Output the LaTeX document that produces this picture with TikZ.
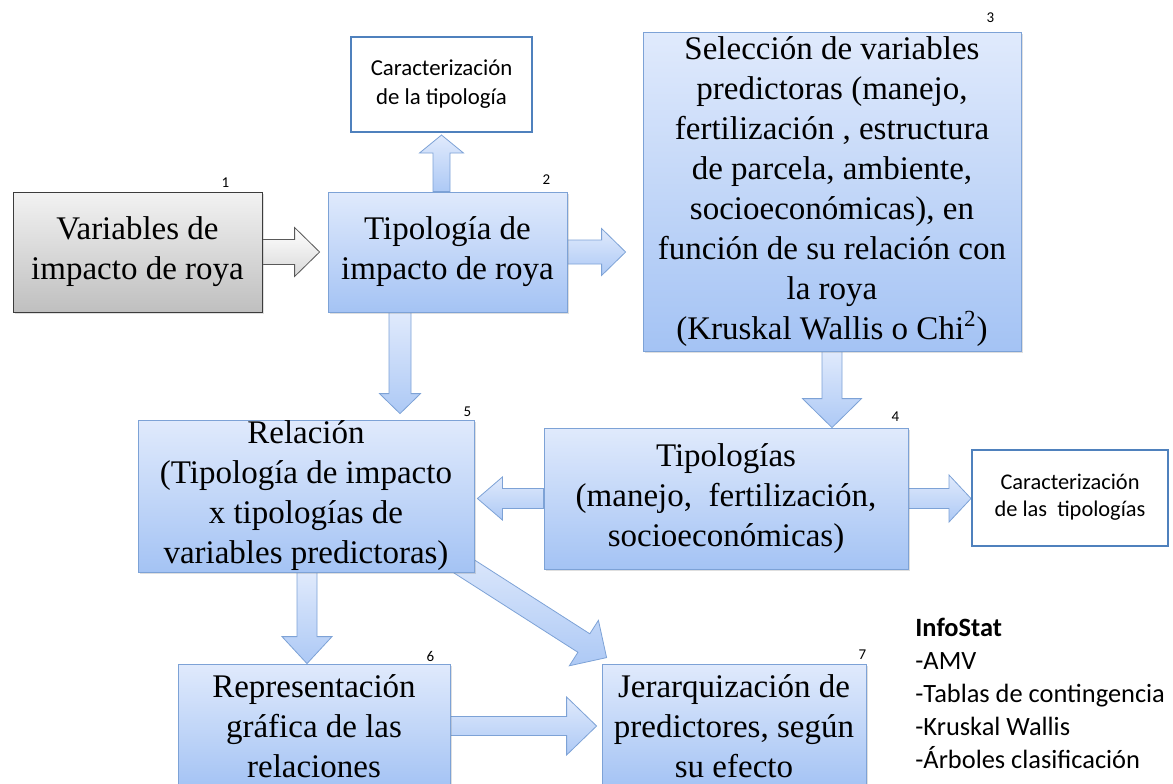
\documentclass[tikz,border=0pt]{standalone}
\usepackage{fontspec}
\setmainfont{Liberation Serif}
\newfontfamily\calibri{Carlito}
\usetikzlibrary{calc,shadows}

\definecolor{cajaborde}{RGB}{125,162,214}
\definecolor{cajaarriba}{RGB}{224,234,252}
\definecolor{cajaabajo}{RGB}{164,195,244}
\definecolor{marcoazul}{RGB}{79,129,189}
\definecolor{grisborde}{RGB}{60,60,60}

\pgfdeclarelayer{fondo}
\pgfsetlayers{fondo,main}

% flecha de bloque: estilo, desde, hasta, medio cuerpo, media punta, largo punta
\newcommand\flecha[6]{%
  \path (#2) coordinate (fa) (#3) coordinate (fb);
  \path ($(fb)!#6!(fa)$) coordinate (fh);
  \draw[#1] ($(fa)!#4!90:(fb)$) -- ($(fh)!#4!90:(fb)$) -- ($(fh)!#5!90:(fb)$)
    -- (fb) -- ($(fh)!#5!-90:(fb)$) -- ($(fh)!#4!-90:(fb)$)
    -- ($(fa)!#4!-90:(fb)$) -- cycle;}

\begin{document}
\begin{tikzpicture}[x=.5pt,y=-.5pt,
    caja/.style={draw=cajaborde,top color=cajaarriba,bottom color=cajaabajo,
      inner sep=0pt,align=center,font=\fontsize{16.5}{20}\selectfont,
      drop shadow={opacity=.25,shadow xshift=1pt,shadow yshift=-1pt}},
    cajagris/.style={caja,draw=grisborde,top color=gray!10,bottom color=gray!50},
    marco/.style={draw=marcoazul,line width=1pt,fill=white,inner sep=0pt,align=center,
      font=\calibri\fontsize{11.4}{14.5}\selectfont},
    num/.style={inner sep=0pt,font=\calibri\fontsize{7.5}{8}\selectfont},
    flechaazul/.style={draw=cajaborde,top color=cajaarriba,bottom color=cajaabajo!90},
    flechagris/.style={draw=grisborde!85,top color=white,bottom color=gray!30}]
  \useasboundingbox (0,0) rectangle (1173,783);

  \node[cajagris,minimum width=124.5pt,minimum height=60pt] (b1) at (137.5,252)
    {Variables de\\impacto de roya};
  \node[caja,minimum width=119.5pt,minimum height=60pt] (b2) at (447.5,252)
    {Tipología de\\impacto de roya};
  \node[marco,minimum width=90.5pt,minimum height=47.5pt] (c1) at (441.5,84.5)
    {Caracterización\\de la tipología};
  \node[caja,minimum width=189pt,minimum height=159.5pt] (b3) at (832,191.5)
    {Selección de variables\\predictoras (manejo,\\fertilización , estructura\\
     de parcela, ambiente,\\socioeconómicas), en\\función de su relación con\\
     la roya\\(Kruskal Wallis o Chi\textsuperscript{2})};
  \node[caja,minimum width=182pt,minimum height=70.5pt] (b4) at (726,498.5)
    {Tipologías\\(manejo,\ \ fertilización,\\socioeconómicas)};
  \node[marco,minimum width=98pt,minimum height=48pt,
    font=\calibri\fontsize{11.2}{13.5}\selectfont] (c2) at (1070,497.5)
    {Caracterización\\de las\ \ tipologías};
  \node[caja,minimum width=168pt,minimum height=76pt] (b5) at (306,496)
    {Relación\\(Tipología de impacto\\x tipologías de\\variables predictoras)};
  \node[caja,minimum width=136pt,minimum height=62pt] (b6) at (314,726)
    {Representación\\gráfica de las\\relaciones};
  \node[caja,minimum width=132pt,minimum height=62pt] (b7) at (734,726)
    {Jerarquización de\\predictores, según\\su efecto};

  \node[num] (n1) at ($(b1.north east)+(-37,-9)$) {1};
  \node[num] (n2) at ($(b2.north east)+(-21,-12)$) {2};
  \node[num] (n3) at ($(b3.north east)+(-31,-14)$) {3};
  \node[num] (n4) at ($(b4.north east)+(-13,-11)$) {4};
  \node[num] (n5) at ($(b5.north east)+(-7,-8)$) {5};
  \node[num] (n6) at ($(b6.north east)+(-20,-7)$) {6};
  \node[num] (n7) at ($(b7.north east)+(-4,-9)$) {7};

  \node[anchor=base west,align=left,inner sep=0pt,
    font=\calibri\fontsize{13.2}{16.5}\selectfont] (info) at (915,768)
    {\textbf{InfoStat}\\-AMV\\-Tablas de contingencia\\-Kruskal Wallis\\-Árboles clasificación};

  \begin{pgfonlayer}{fondo}
    \flecha{flechagris}{b1.east}{$(b1.east -| b2.west)+(-8,0)$}{6.25pt}{12.25pt}{12.5pt}
    \flecha{flechaazul}{c1.south |- b2.north}{$(c1.south)+(0,2)$}{4.25pt}{11pt}{9pt}
    \flecha{flechaazul}{b2.east}{$(b2.east -| b3.west)+(-17,0)$}{6pt}{11.75pt}{12pt}
    \flecha{flechaazul}{b3.south}{b3.south |- b4.north}{5pt}{14.75pt}{14.5pt}
    \flecha{flechaazul}{$(b2.south)+(-47.5,0)$}{$(b2.south |- b5.north)+(-47.5,-6)$}{5.5pt}{10.25pt}{10pt}
    \flecha{flechaazul}{b4.west}{$(b4.west -| b5.east)+(3,0)$}{5pt}{10.75pt}{12.5pt}
    \flecha{flechaazul}{b4.east}{b4.east -| c2.west}{5pt}{11.75pt}{11pt}
    \flecha{flechaazul}{$(b5.south)+(1,0)$}{$(b5.south |- b6.north)+(1,0)$}{5pt}{12.5pt}{13.5pt}
    \flecha{flechaazul}{$(b5.south east)+(-29,-18)$}{$(b7.north west)+(5,-6)$}{5.5pt}{13.5pt}{13.5pt}
    \flecha{flechaazul}{b6.east}{$(b6.east -| b7.west)+(-5,0)$}{4.75pt}{14.5pt}{15pt}
  \end{pgfonlayer}
\end{tikzpicture}
\end{document}
